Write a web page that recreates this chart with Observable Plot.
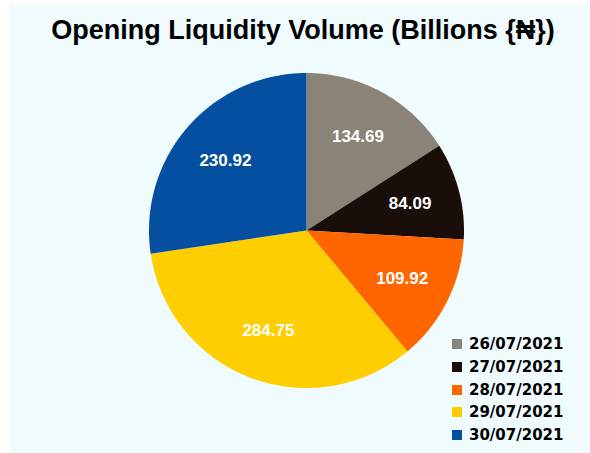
<!DOCTYPE html>
<html><head><meta charset="utf-8">
<script src="https://cdn.jsdelivr.net/npm/d3@7"></script>
<script src="https://cdn.jsdelivr.net/npm/@observablehq/plot@0.6"></script>
<style>
html,body{margin:0;padding:0;background:#fff;width:590px;height:453px;overflow:hidden;}
#bg{position:absolute;left:10px;top:5px;width:580px;height:448px;background:#F0FBFE;}
#chart{position:absolute;left:0;top:0;}
#title{position:absolute;left:0;top:15px;width:606px;text-align:center;font-weight:bold;font-size:27px;font-family:"Liberation Sans","DejaVu Sans",sans-serif;color:#000;line-height:30px;}
#legend{position:absolute;left:452px;top:333px;}
#legend .lg-swatches, #legend .lg-swatch, #legend .lg-swatch *{font-family:"DejaVu Sans",sans-serif !important;font-weight:bold !important;font-size:15px !important;color:#000 !important;}
#legend .lg-swatch{height:22.7px;margin:0;padding:0;display:flex;align-items:center;}
#legend .lg-swatch svg{margin-right:7px;}
</style></head><body>
<div id="bg"></div><div id="chart"></div><div id="title"></div><div id="legend"></div>
<script>
const titleText = "Opening Liquidity Volume (Billions {\u20A6})";
const dates = ["26/07/2021", "27/07/2021", "28/07/2021", "29/07/2021", "30/07/2021"];
const values = [134.69, 84.09, 109.92, 284.75, 230.92];
const colors = ["#8A8378", "#1A0E0A", "#FF6600", "#FFCE00", "#054FA1"];

const data = dates.map((d, i) => ({date: d, value: values[i]}));
const arcs = d3.pie().sort(null).value(d => d.value)(data);

const pts = [];
arcs.forEach(a => {
  const date = a.data.date;
  pts.push({date, x: 0, y: 0});
  const n = Math.ceil((a.endAngle - a.startAngle) / (Math.PI / 360));
  for (let i = 0; i <= n; i++) {
    const t = a.startAngle + (a.endAngle - a.startAngle) * i / n;
    pts.push({date, x: Math.sin(t), y: Math.cos(t)});
  }
});
const labels = arcs.map(a => {
  const m = (a.startAngle + a.endAngle) / 2;
  return {date: a.data.date, text: a.data.value.toFixed(2), x: 0.68 * Math.sin(m), y: 0.68 * Math.cos(m)};
});

const colorScale = {domain: dates, range: colors};

const chart = Plot.plot({
  width: 590, height: 453,
  marginLeft: 148.5, marginRight: 126.5, marginTop: 72.5, marginBottom: 65.5,
  x: {domain: [-1, 1], axis: null},
  y: {domain: [-1, 1], axis: null},
  color: colorScale,
  style: {background: "transparent", overflow: "visible"},
  marks: [
    Plot.line(pts, {x: "x", y: "y", z: "date", fill: "date", stroke: "none", curve: "linear-closed"}),
    Plot.text(labels, {x: "x", y: "y", text: "text", fill: "white", fontSize: 17, fontWeight: "bold",
      fontFamily: "Liberation Sans, Arial, sans-serif"})
  ]
});
document.getElementById("chart").appendChild(chart);
document.getElementById("title").textContent = titleText;

const legend = Plot.legend({color: colorScale, legend: "swatches", columns: 1, swatchSize: 10, className: "lg"});
document.getElementById("legend").appendChild(legend);
</script>
</body></html>
